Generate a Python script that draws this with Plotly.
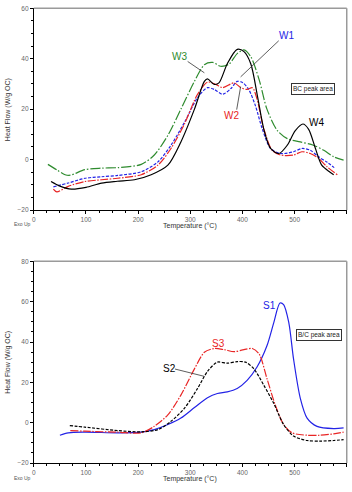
import plotly.graph_objects as go

# ---- Data (top panel) ----
w4_x = [33, 50, 72, 100, 130, 160, 193, 225, 257, 282, 308, 327, 333, 346, 355, 371, 390, 403, 416, 429, 441, 454, 470, 486, 501, 516, 527, 540, 552, 568, 575]
w4_y = [-8.7, -10.5, -11.7, -11, -9.3, -8.6, -8, -6, -2.2, 7, 20, 31, 32, 29.8, 30.4, 38, 43.7, 42.8, 38, 25, 12, 4.4, 2.4, 5.7, 11.4, 14.1, 12, 4.4, -2.2, -5, -6]

w3_x = [27, 45, 60, 70, 98, 130, 161, 206, 231, 257, 282, 308, 327, 343, 358, 374, 390, 403, 416, 432, 447, 467, 486, 511, 536, 556, 575, 594]
w3_y = [-1.9, -4.2, -6, -6.2, -4, -3.4, -3.2, -1.9, 1.8, 9.6, 20, 31, 37.6, 38.5, 37, 37.8, 42, 43.5, 40.8, 31.7, 20, 11.5, 8.3, 7, 5.7, 3.7, 1.1, -0.2]

w1_x = [37.5, 66, 98, 130, 161, 206, 238, 263, 289, 314, 333, 346, 362, 378, 390, 400, 412, 425, 438, 454, 473, 498, 514, 530, 546, 562, 576]
w1_y = [-10.8, -9.3, -7.4, -6.8, -6.3, -4.8, -0.9, 5.7, 14.8, 24.6, 28.5, 27.8, 25.9, 28.2, 31, 30.6, 27.8, 21.3, 12.2, 4.4, 2.4, 3.1, 4.4, 3.7, 1.1, -1, -3.2]

w2_x = [37.5, 44, 66, 98, 130, 161, 206, 238, 263, 289, 314, 333, 349, 362, 384, 397, 409, 419, 428, 441, 457, 473, 498, 514, 530, 546, 562, 584]
w2_y = [-11.7, -12.8, -10.6, -8.7, -8, -7.4, -6, -2.2, 4.4, 14.2, 25.9, 30.7, 29.8, 28.5, 30.4, 28.5, 27.8, 28.5, 24, 12.2, 3.7, 1.8, 1.8, 3.1, 2.4, 0.5, -2.8, -6.3]

# ---- Data (bottom panel) ----
s1_x = [50, 66, 98, 161, 206, 231, 257, 282, 308, 333, 352, 371, 390, 409, 428, 447, 460, 472, 479, 489, 498, 511, 524, 543, 575, 594]
s1_y = [-6.2, -5, -4.7, -5, -4.7, -3.4, -0.9, 2.3, 7.5, 12.4, 14.5, 15.3, 17, 21, 27.6, 38.1, 49.5, 59.3, 58.5, 49.5, 31.6, 12.1, 2.3, -1.8, -2.9, -2.6]

s3_x = [70, 98, 161, 206, 231, 257, 282, 308, 327, 346, 365, 384, 403, 419, 432, 447, 463, 479, 495, 524, 549, 575, 594]
s3_y = [-3.9, -4.2, -4.7, -5, -1.8, 3.9, 13.7, 26.7, 34.9, 36.8, 36.2, 35.2, 36.2, 36.8, 34.1, 21.9, 8.8, -0.9, -5, -6.2, -6.2, -5.5, -4.7]

s2_x = [69, 98, 161, 206, 238, 263, 289, 314, 333, 352, 371, 390, 406, 422, 441, 460, 479, 498, 524, 549, 575, 594]
s2_y = [-1.4, -2.2, -3.9, -4.5, -3.4, 0.7, 7.2, 17, 25.4, 30, 29.5, 30.3, 30, 26.7, 18.6, 9.6, -0.9, -6.6, -8.8, -9.1, -8.8, -8.4]

x_ticks = [0, 100, 200, 300, 400, 500, 600]
y_ticks_top = [-20, 0, 20, 40, 60]
y_ticks_bot = [-20, 0, 20, 40, 60, 80]

BLUE = "#2323e6"
RED = "#e82525"
GREEN = "#2e8b2e"
BLACK = "#000000"

W, H = 352, 492
def px(x):
    return x / W
def py(y):
    return 1 - y / H

LW = 1.2
fig = go.Figure()

def line(color, dash="solid"):
    return dict(color=color, width=LW, dash=dash, shape="spline", smoothing=0.8)

# top panel traces
fig.add_trace(go.Scatter(x=w3_x, y=w3_y, mode="lines", line=line(GREEN, "10px,2px,1.5px,2px"), xaxis="x", yaxis="y"))
fig.add_trace(go.Scatter(x=w1_x, y=w1_y, mode="lines", line=line(BLUE, "3px,1.5px"), xaxis="x", yaxis="y"))
fig.add_trace(go.Scatter(x=w2_x, y=w2_y, mode="lines", line=line(RED, "8px,1.5px,1.5px,1.5px"), xaxis="x", yaxis="y"))
fig.add_trace(go.Scatter(x=w4_x, y=w4_y, mode="lines", line=line(BLACK), xaxis="x", yaxis="y"))

# bottom panel traces
fig.add_trace(go.Scatter(x=s1_x, y=s1_y, mode="lines", line=line(BLUE), xaxis="x2", yaxis="y2"))
fig.add_trace(go.Scatter(x=s3_x, y=s3_y, mode="lines", line=line(RED, "8px,1.5px,1.5px,1.5px"), xaxis="x2", yaxis="y2"))
fig.add_trace(go.Scatter(x=s2_x, y=s2_y, mode="lines", line=line(BLACK, "3px,1.5px"), xaxis="x2", yaxis="y2"))

xdom = [px(32), px(346.7)]
ydom_top = [py(209), py(4.3)]
ydom_bot = [py(465.7), py(261)]

tickfont = dict(family="Liberation Sans, Arial", size=6.5, color="#666666")
axcommon = dict(showgrid=False, zeroline=False, showline=True, linecolor="#000000", linewidth=1,
                ticks="outside", ticklen=3, tickcolor="#000000", tickfont=tickfont)

fig.update_layout(
    width=W, height=H, margin=dict(l=0, r=0, t=0, b=0),
    paper_bgcolor="white", plot_bgcolor="white", showlegend=False,
    xaxis=dict(domain=xdom, anchor="y", range=[0, 600], tickvals=x_ticks,
               minor=dict(dtick=25, ticks="outside", ticklen=2, tickcolor="#000"), **axcommon),
    yaxis=dict(domain=ydom_top, anchor="x", range=[-20, 60], tickvals=y_ticks_top,
               minor=dict(dtick=5, ticks="outside", ticklen=2, tickcolor="#000"), **axcommon),
    xaxis2=dict(domain=xdom, anchor="y2", range=[0, 600], tickvals=x_ticks,
                minor=dict(dtick=25, ticks="outside", ticklen=2, tickcolor="#000"), **axcommon),
    yaxis2=dict(domain=ydom_bot, anchor="x2", range=[-20, 80], tickvals=y_ticks_bot,
                minor=dict(dtick=5, ticks="outside", ticklen=2, tickcolor="#000"), **axcommon),
)

# gray top/right frame lines
shapes = []
for yd in (ydom_top, ydom_bot):
    shapes.append(dict(type="line", xref="paper", yref="paper", x0=xdom[0], x1=xdom[1], y0=yd[1], y1=yd[1], line=dict(color="#9a9a9a", width=1.5)))
    shapes.append(dict(type="line", xref="paper", yref="paper", x0=xdom[1], x1=xdom[1], y0=yd[0], y1=yd[1], line=dict(color="#9a9a9a", width=1.5)))
fig.update_layout(shapes=shapes)

labfont = dict(family="Liberation Sans, Arial", size=7, color="#333333")
ann = []
# axis titles and Exo Up
for (xt_y, yt_y, exo_y) in ((225, 106.7, 223.3), (482, 363, 480.7)):
    ann.append(dict(text="Temperature (°C)", xref="paper", yref="paper", x=px(189), y=py(xt_y), showarrow=False, font=labfont, xanchor="center", yanchor="middle"))
    ann.append(dict(text="Heat Flow (W/g OC)", xref="paper", yref="paper", x=px(6), y=py(yt_y), showarrow=False, font=labfont, textangle=-90, xanchor="center", yanchor="middle"))
    ann.append(dict(text="Exo Up", xref="paper", yref="paper", x=px(10), y=py(exo_y), showarrow=False, font=dict(family="Liberation Sans, Arial", size=5, color="#555555"), xanchor="left", yanchor="middle"))

# boxes
ann.append(dict(text="BC peak area", x=536, y=27.8, xref="x", yref="y", showarrow=False, font=dict(family="Liberation Sans, Arial", size=6.5, color="#222"), bordercolor="#333", borderwidth=1, borderpad=1, bgcolor="white"))
ann.append(dict(text="B/C peak area", x=547, y=43.4, xref="x2", yref="y2", showarrow=False, font=dict(family="Liberation Sans, Arial", size=6.5, color="#222"), bordercolor="#333", borderwidth=1, borderpad=1, bgcolor="white"))

lf = lambda c: dict(family="Liberation Sans, Arial", size=10, color=c)
# series labels top
ann.append(dict(text="W3", x=279, y=40.9, xref="x", yref="y", showarrow=False, font=lf(GREEN)))
ann.append(dict(text="W1", x=484, y=49, xref="x", yref="y", showarrow=False, font=lf(BLUE)))
ann.append(dict(text="W2", x=379, y=17.5, xref="x", yref="y", showarrow=False, font=lf(RED)))
ann.append(dict(text="W4", x=541.5, y=14.6, xref="x", yref="y", showarrow=False, font=lf(BLACK)))
# series labels bottom
ann.append(dict(text="S1", x=452, y=58, xref="x2", yref="y2", showarrow=False, font=lf(BLUE)))
ann.append(dict(text="S3", x=355, y=39.3, xref="x2", yref="y2", showarrow=False, font=lf(RED)))
ann.append(dict(text="S2", x=260, y=27.1, xref="x2", yref="y2", showarrow=False, font=lf(BLACK)))
fig.update_layout(annotations=ann)

# leader lines
leaders = [
    ("x", "y", 295, 38.9, 327, 34.4),
    ("x", "y", 469.6, 47.1, 396.6, 32.8),
    ("x", "y", 389, 19.8, 396.6, 28.9),
    ("x2", "y2", 270.7, 26.6, 326.6, 23.0),
]
for xr, yr, x0, y0, x1, y1 in leaders:
    fig.add_shape(type="line", xref=xr, yref=yr, x0=x0, y0=y0, x1=x1, y1=y1, line=dict(color="#333333", width=0.8))

fig.write_html("out.html")
